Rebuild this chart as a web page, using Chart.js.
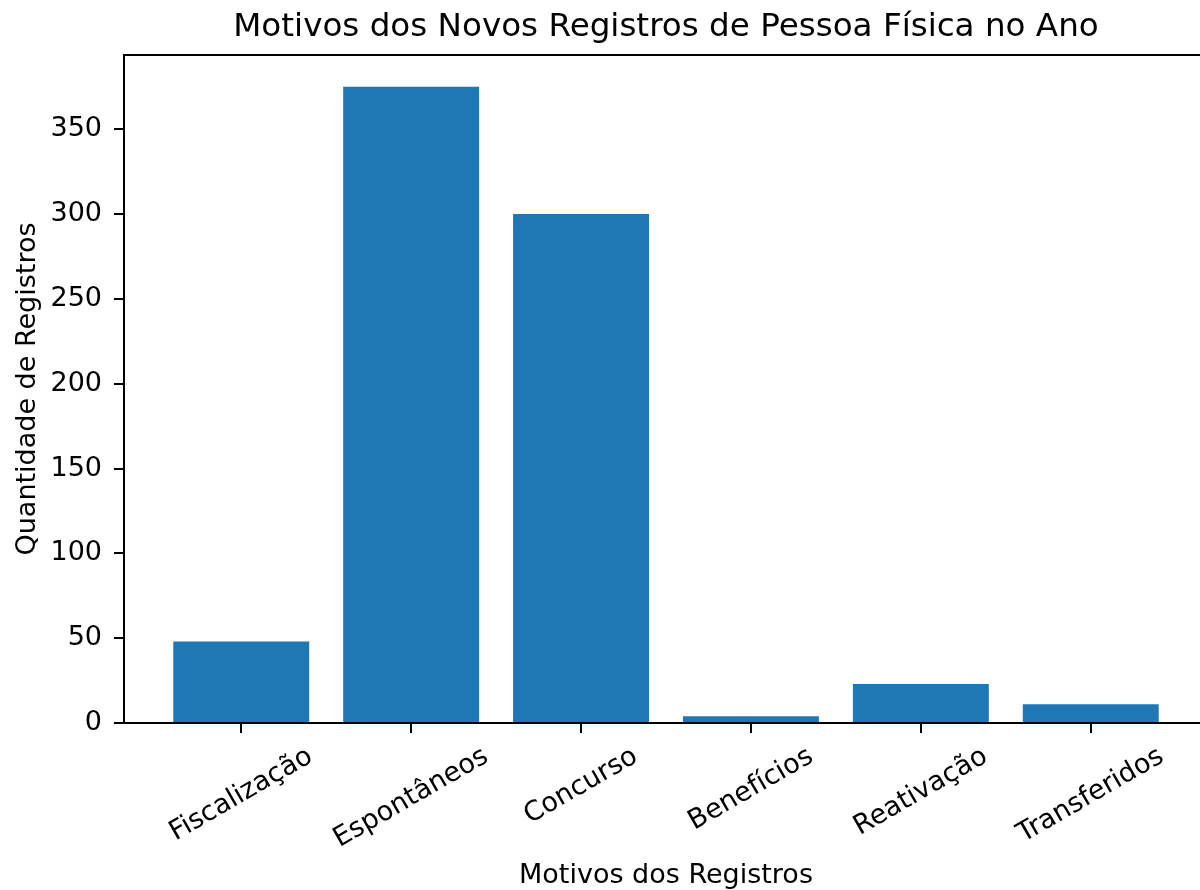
<!DOCTYPE html>
<html>
<head>
<meta charset="utf-8">
<script src="https://cdn.jsdelivr.net/npm/chart.js@4"></script>
<style>
  html, body { margin: 0; padding: 0; background: #fff; overflow: hidden; }
  #wrap { width: 1200px; height: 890px; overflow: hidden; }
</style>
</head>
<body>
<div id="wrap"><canvas id="chart" width="1220" height="892"></canvas></div>
<script>
// Data
var categorias = ['Fiscalização', 'Espontâneos', 'Concurso', 'Benefícios', 'Reativação', 'Transferidos'];
var quantidades = [48, 375, 300, 4, 23, 11];
var yTicks = [0, 50, 100, 150, 200, 250, 300, 350];

var FONT = 'DejaVu Sans';
var tickSize = 27;

// matplotlib-like rotated x labels, centred on the tick
var xLabels = {
    id: 'xLabels',
    afterDraw: function(chart) {
        var ctx = chart.ctx;
        var xs = chart.scales.x;
        var top = chart.chartArea.bottom + 10 + 8;
        var ang = 30 * Math.PI / 180;
        ctx.save();
        ctx.font = tickSize + 'px "' + FONT + '"';
        ctx.fillStyle = '#000';
        ctx.textAlign = 'center';
        ctx.textBaseline = 'middle';
        categorias.forEach(function(c, i) {
            var w = ctx.measureText(c).width;
            var h = tickSize * 1.16;
            var bh = w * Math.sin(ang) + h * Math.cos(ang);
            ctx.save();
            ctx.translate(xs.getPixelForValue(i), top + bh / 2);
            ctx.rotate(-ang);
            ctx.fillText(c, 0, 0);
            ctx.restore();
        });
        ctx.restore();
    }
};

// top and right spines
var frame = {
    id: 'frame',
    afterDraw: function(chart) {
        var a = chart.chartArea;
        var ctx = chart.ctx;
        ctx.save();
        ctx.strokeStyle = '#000';
        ctx.lineWidth = 2;
        ctx.beginPath();
        ctx.moveTo(a.left - 1, a.top);
        ctx.lineTo(a.right, a.top);
        ctx.lineTo(a.right, a.bottom);
        ctx.stroke();
        ctx.restore();
    }
};

new Chart(document.getElementById('chart').getContext('2d'), {
    type: 'bar',
    data: {
        datasets: [{
            data: categorias.map(function(c, i) { return { x: i, y: quantidades[i] }; }),
            backgroundColor: '#1f77b4',
            borderWidth: 0,
            barPercentage: 0.8,
            categoryPercentage: 1.0
        }]
    },
    options: {
        responsive: false,
        animation: false,
        devicePixelRatio: 1,
        layout: { padding: { left: 0, right: 12, top: 0, bottom: 0 } },
        plugins: {
            legend: { display: false },
            tooltip: { enabled: false },
            title: {
                display: true,
                text: 'Motivos dos Novos Registros de Pessoa Física no Ano',
                fullSize: false,
                color: '#000',
                font: { family: FONT, size: 32.6, weight: 'normal' },
                padding: { top: 8.4, bottom: 7.5 }
            }
        },
        scales: {
            x: {
                type: 'linear',
                offset: false,
                min: -0.69,
                max: 5.69,
                afterBuildTicks: function(s) {
                    s.ticks = categorias.map(function(c, i) { return { value: i }; });
                },
                afterFit: function(s) { s.height = 169; },
                ticks: { display: false },
                grid: { offset: false, drawOnChartArea: false, drawTicks: true, tickLength: 10, tickColor: '#000', lineWidth: 2 },
                border: { display: true, color: '#000', width: 2 },
                title: {
                    display: true,
                    text: 'Motivos dos Registros',
                    color: '#000',
                    font: { family: FONT, size: tickSize },
                    padding: { top: 0, bottom: 0 }
                }
            },
            y: {
                min: 0,
                max: 393.75,
                afterBuildTicks: function(s) {
                    s.ticks = yTicks.map(function(v) { return { value: v }; });
                },
                afterFit: function(s) { s.width = 124; },
                ticks: {
                    color: '#000',
                    padding: 12,
                    font: { family: FONT, size: tickSize }
                },
                grid: { drawOnChartArea: false, drawTicks: true, tickLength: 10, tickColor: '#000', lineWidth: 2 },
                border: { display: true, color: '#000', width: 2 },
                title: {
                    display: true,
                    text: 'Quantidade de Registros',
                    color: '#000',
                    font: { family: FONT, size: tickSize },
                    padding: { top: 11.8, bottom: 0 }
                }
            }
        }
    },
    plugins: [xLabels, frame]
});
</script>
</body>
</html>
